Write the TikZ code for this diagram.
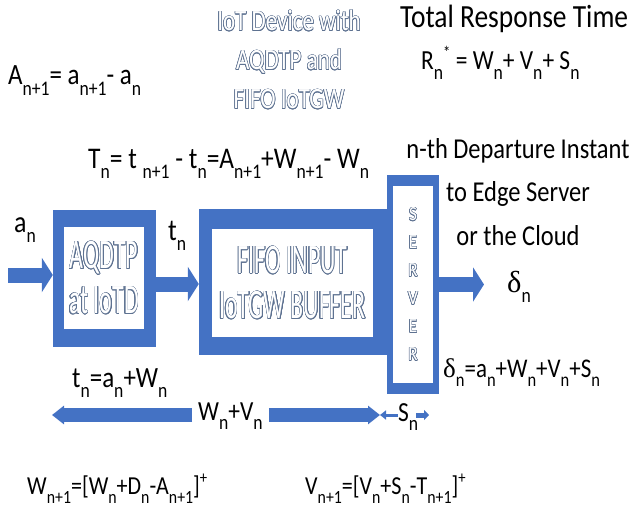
\documentclass[tikz,border=0pt]{standalone}
\usepackage{fontspec}
\setmainfont{Carlito}[FakeStretch=0.85]
\newfontfamily\wordart[FakeStretch=0.86]{Carlito}
\newfontfamily\headart[FakeStretch=0.78]{Carlito}
\newfontfamily\boxart[FakeStretch=0.57]{Carlito}
\newfontfamily\greek{Liberation Serif}
\usepackage{xcolor}
\usepackage{relsize}
\usepackage{contour}
\contourlength{0.55pt}
\usetikzlibrary{arrows.meta, positioning}
\definecolor{ppblue}{HTML}{4472C4}
\definecolor{outl}{HTML}{5E7291}
% sub- and superscripts as the picture sets them
\newcommand{\lo}[1]{\raisebox{-0.36em}{\relscale{0.72}#1}}
\newcommand{\hi}[1]{\raisebox{0.42em}{\relscale{0.66}#1}}
\newcommand{\dlt}{{\greek δ}}
\newcommand{\wa}[1]{{\color{white}\contour{outl}{#1}}}
\newcommand{\pt}[1]{\fontsize{#1}{#1}\selectfont}
\tikzset{
  frame/.style={fill=ppblue, inner sep=0pt},
  pane/.style={fill=white, inner sep=0pt, align=center},
  fat/.style={ppblue, line width=15pt, -{Triangle[width=34pt, length=11pt]}},
  slim/.style={ppblue, line width=14pt, -{Triangle[width=18pt, length=12pt]}},
  tiny/.style={ppblue, line width=3pt, -{Triangle[width=9pt, length=6pt]}},
  lbl/.style={font=\pt{30.5}, inner sep=0pt, anchor=base west},
  hdr/.style={font=\headart\fontsize{29.5}{39}\selectfont, align=center, inner sep=0pt},
}

\begin{document}
\begin{tikzpicture}[x=1pt, y=-1pt]
    \useasboundingbox (0,0) rectangle (629,508);
    % header texts
    \node (title) at (289,60) [hdr] {\wa{IoT Device with}\\\wa{AQDTP and}\\\wa{FIFO IoTGW}};
    \node (tot)   at (400,28) [lbl, font=\pt{32.3}] {Total Response Time};
    \node (resp)  at (421,70) [lbl, font=\pt{27.6}] {R\lo{n}\hi{*} = W\lo{n}+ V\lo{n}+ S\lo{n}};
    \node (agap)  at (8,85)   [lbl, font=\pt{29.4}] {A\lo{n+1}= a\lo{n+1}- a\lo{n}};
    \node (tgap)  at (88,168) [lbl, font=\pt{30}] {T\lo{n}= t \lo{n+1} - t\lo{n}=A\lo{n+1}+W\lo{n+1}- W\lo{n}};
    \node (dep)   at (518,245) [font=\fontsize{28.8}{43.5}\selectfont, align=center, inner sep=0pt, anchor=base]
                  {n-th Departure Instant\\to Edge Server\\or the Cloud};

    % the three blocks
    \node (aq)     at (104.5,278.5) [frame, minimum width=103pt, minimum height=137pt] {};
    \node (aqin)   at (104,278)     [pane, minimum width=80pt, minimum height=102pt,
                                     font=\boxart\fontsize{42}{45}\selectfont] {\wa{AQDTP}\\\wa{at IoTD}};
    \node (fifo)   at (293,282)     [frame, minimum width=188pt, minimum height=146pt] {};
    \node (fifoin) at (292.5,283)   [pane, minimum width=161pt, minimum height=108pt,
                                     font=\boxart\fontsize{42}{45}\selectfont] {\wa{FIFO INPUT}\\\wa{IoTGW BUFFER}};
    \node (srv)    at (413,284.5)   [frame, minimum width=52pt, minimum height=219pt] {};
    \node (srvin)  at (413,284.5)   [pane, minimum width=40pt, minimum height=197pt,
                                     font=\wordart\fontsize{20}{28}\selectfont] {\wa{S}\\\wa{E}\\\wa{R}\\\wa{V}\\\wa{E}\\\wa{R}};

    % flow arrows
    \coordinate (src) at (8,275);
    \coordinate (out) at (484,284.5);
    \draw [fat] (src) -- (src -| aq.west);
    \draw [fat] ([yshift=-2pt]aq.east |- fifo.west) -- ([yshift=-2pt]fifo.west);
    \draw [fat] (srv.east) -- (out);
    \node (an)   at (14,232)  [lbl] {a\lo{n}};
    \node (tn)   at (168,240) [lbl] {t\lo{n}};
    \node (dn)   at (507,292) [lbl] {\dlt\lo{n}};
    \node (deq)  at (443,377) [lbl, font=\pt{27}] {\dlt\lo{n}=a\lo{n}+W\lo{n}+V\lo{n}+S\lo{n}};
    \node (teq)  at (72,387)  [lbl, font=\pt{29.4}] {t\lo{n}=a\lo{n}+W\lo{n}};

    % waiting and service spans
    \coordinate (bl) at (52,415);
    \coordinate (br) at (380,415);
    \coordinate (sr) at (429,415);
    \node (wv) at (192,420) [lbl, font=\pt{27.6}, inner xsep=6pt] {W\lo{n}+V\lo{n}};
    \node (sn) at (398,421) [lbl, font=\pt{27.6}] {S\lo{n}};
    \draw [slim] (wv.east |- br) -- (br);
    \draw [slim] (wv.west |- bl) -- (bl);
    \draw [tiny] (sn.west |- br) -- (br);
    \draw [tiny, line width=5pt, -{Triangle[width=10pt, length=5pt]}] (416,415) -- (sr);

    % recursions
    \node (weq) at (27,494)  [lbl, font=\pt{25.9}] {W\lo{n+1}=[W\lo{n}+D\lo{n}-A\lo{n+1}]\hi{+}};
    \node (veq) at (305,494) [lbl, font=\pt{25.9}] {V\lo{n+1}=[V\lo{n}+S\lo{n}-T\lo{n+1}]\hi{+}};
\end{tikzpicture}
\end{document}
